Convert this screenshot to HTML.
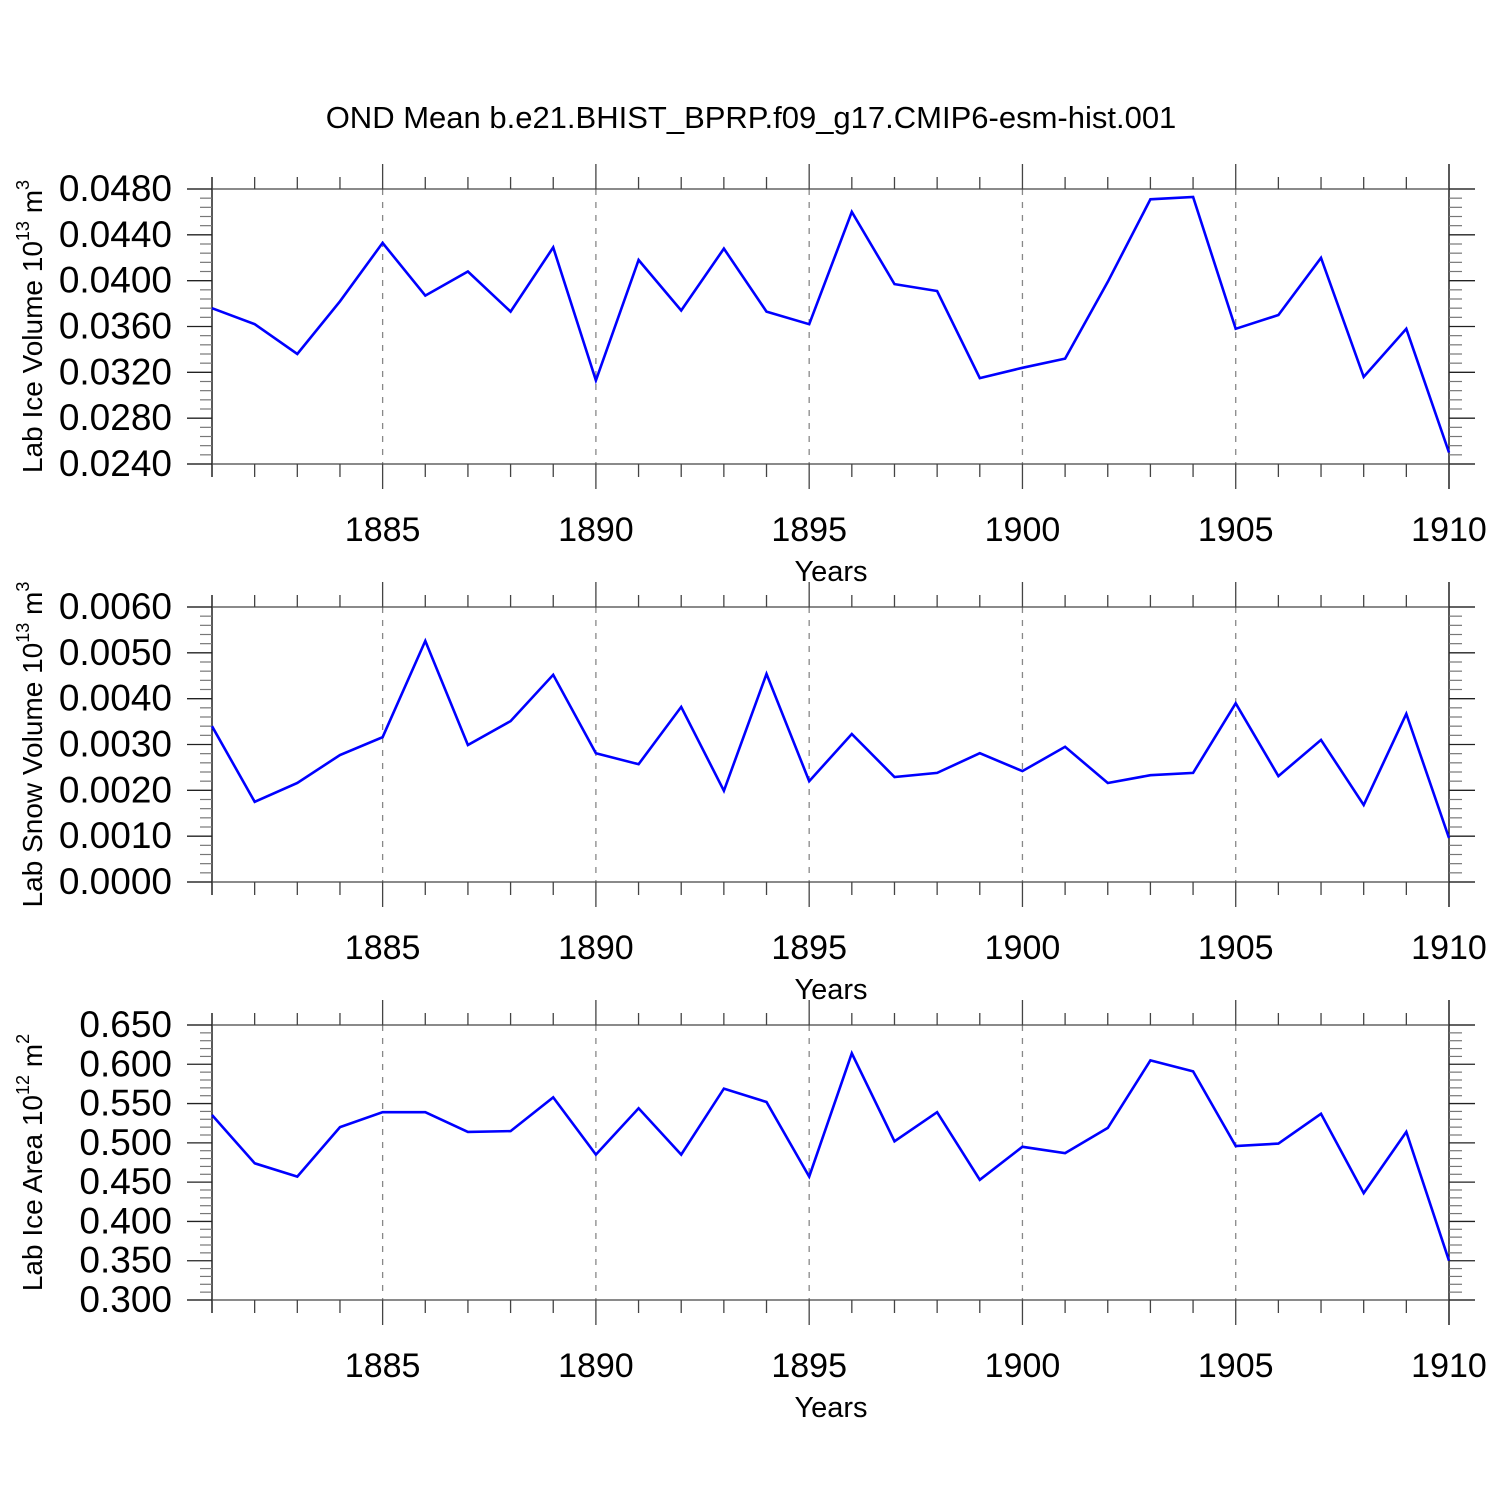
<!DOCTYPE html>
<html><head><meta charset="utf-8"><style>
html,body{margin:0;padding:0;background:#fff}
svg{display:block;font-family:"Liberation Sans",sans-serif}
</style></head><body>
<svg id="chart" width="1500" height="1500" viewBox="0 0 1500 1500">
<text x="751" y="128" font-size="31" text-anchor="middle">OND Mean b.e21.BHIST_BPRP.f09_g17.CMIP6-esm-hist.001</text>
</svg>
<script>
const years = [1881,1882,1883,1884,1885,1886,1887,1888,1889,1890,1891,1892,1893,1894,1895,1896,1897,1898,1899,1900,1901,1902,1903,1904,1905,1906,1907,1908,1909,1910];
const xTickLabels = [1885,1890,1895,1900,1905,1910];
const iceVolume = [0.0376,0.0362,0.0336,0.0382,0.0433,0.0387,0.0408,0.0373,0.0429,0.0313,0.0418,0.0374,0.0428,0.0373,0.0362,0.0460,0.0397,0.0391,0.0315,0.0324,0.0332,0.0399,0.0471,0.0473,0.0358,0.0370,0.0420,0.0316,0.0358,0.0250];
const snowVolume = [0.0034,0.00175,0.00216,0.00277,0.00316,0.00526,0.00299,0.00351,0.00452,0.00281,0.00257,0.00382,0.00199,0.00454,0.0022,0.00323,0.00229,0.00238,0.00281,0.00242,0.00295,0.00216,0.00233,0.00238,0.0039,0.00231,0.0031,0.00168,0.00367,0.00096];
const iceArea = [0.5355,0.474,0.457,0.520,0.539,0.539,0.514,0.515,0.558,0.485,0.544,0.485,0.569,0.552,0.457,0.614,0.502,0.539,0.453,0.495,0.487,0.519,0.605,0.591,0.496,0.499,0.537,0.436,0.514,0.350];
const iceVolumeTicks = ["0.0240","0.0280","0.0320","0.0360","0.0400","0.0440","0.0480"];
const snowVolumeTicks = ["0.0000","0.0010","0.0020","0.0030","0.0040","0.0050","0.0060"];
const iceAreaTicks = ["0.300","0.350","0.400","0.450","0.500","0.550","0.600","0.650"];

const svg = document.getElementById('chart');
const NS = 'http://www.w3.org/2000/svg';
function mk(tag, attrs, parent){const e=document.createElementNS(NS,tag);for(const k in attrs)e.setAttribute(k,attrs[k]);(parent||svg).appendChild(e);return e;}

const X0=212, X1=1449;
const xScale = y => X0 + (y-1881)*(X1-X0)/(1910-1881);

function panel(name, top, bottom, ticks, data, ylabel, sup, unitSup){
  const g = mk('g',{});
  
  
  const vmin=parseFloat(ticks[0]), vmax=parseFloat(ticks[ticks.length-1]);
  const yScale = v => bottom - (v-vmin)*(bottom-top)/(vmax-vmin);
  xTickLabels.forEach(yr=>{ if(yr<1910){ const l=mk('line',{x1:xScale(yr),x2:xScale(yr),y1:top,y2:bottom,stroke:'#888','stroke-width':1.3,'stroke-dasharray':'6,7'},g);
     }});
  mk('line',{x1:X0,x2:X0,y1:top,y2:bottom,stroke:'#000','stroke-width':1.3},g);
  mk('line',{x1:X1,x2:X1,y1:top-25,y2:bottom+25,stroke:'#000','stroke-width':1.3},g);
  mk('line',{x1:X0,x2:X0,y1:bottom,y2:bottom+13,stroke:'#000','stroke-width':1.3},g);
  mk('line',{x1:X0,x2:X0,y1:top,y2:top-12,stroke:'#000','stroke-width':1.3},g);
  years.forEach(yr=>{
    const major = xTickLabels.includes(yr);
    const x=xScale(yr);
    if(yr===1881||yr===1910) return;
    mk('line',{x1:x,x2:x,y1:top,y2:top-(major?25:12),stroke:'#444','stroke-width':1.3},g);
    mk('line',{x1:x,x2:x,y1:bottom,y2:bottom+(major?25:13),stroke:'#444','stroke-width':1.3},g);
  });
  xTickLabels.forEach(yr=>{
    const t=mk('text',{x:xScale(yr),y:bottom+77,'font-size':34,'text-anchor':'middle'},g);
    t.textContent=yr;
     
  });
  const xt=mk('text',{x:831,y:bottom+117,'font-size':29,'text-anchor':'middle'},g);
  xt.textContent='Years';
   
  const n=ticks.length-1;
  for(let i=0;i<=n;i++){
    const y=bottom-i*(bottom-top)/n;
    if(i===0||i===n) mk('line',{x1:187,x2:1475,y1:y,y2:y,stroke:'#444','stroke-width':1.3}, g);
    mk('line',{x1:187,x2:X0,y1:y,y2:y,stroke:'#222','stroke-width':1.3},g);
    mk('line',{x1:X1,x2:1475,y1:y,y2:y,stroke:'#222','stroke-width':1.3},g);
    const t=mk('text',{x:172,y:y+12,'font-size':37,'text-anchor':'end'},g);
    t.textContent=ticks[i];
     
    if(i<n){ for(let j=1;j<5;j++){ const ym=y-j*(bottom-top)/n/5;
      mk('line',{x1:200,x2:X0,y1:ym,y2:ym,stroke:'#777','stroke-width':1.2},g);
      mk('line',{x1:X1,x2:1462,y1:ym,y2:ym,stroke:'#777','stroke-width':1.2},g);}}
  }
  const cy=(top+bottom)/2;
  const yl=mk('text',{x:0,y:0,'font-size':28,'text-anchor':'middle',transform:`translate(42,${cy}) rotate(-90)`},g);
  yl.innerHTML=ylabel+' 10<tspan dy="-13" font-size="18">'+sup+'</tspan><tspan dy="13"> m</tspan><tspan dy="-13" font-size="18">'+unitSup+'</tspan>';
   
  const pts=data.map((v,i)=>xScale(years[i]).toFixed(1)+','+yScale(v).toFixed(1)).join(' ');
  const pl=mk('polyline',{points:pts,fill:'none',stroke:'#0000ff','stroke-width':2.6,'stroke-linejoin':'miter'},g);
  
  
}
panel('ice-volume',189,464,iceVolumeTicks,iceVolume,'Lab Ice Volume','13','3');
panel('snow-volume',607,882,snowVolumeTicks,snowVolume,'Lab Snow Volume','13','3');
panel('ice-area',1025,1300,iceAreaTicks,iceArea,'Lab Ice Area','12','2');
</script>
</body></html>
